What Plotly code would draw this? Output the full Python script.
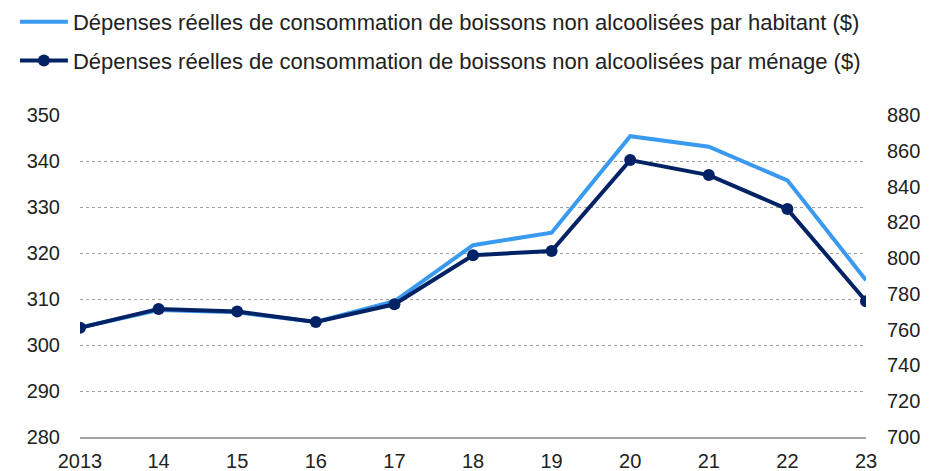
import plotly.graph_objects as go

years = [2013, 2014, 2015, 2016, 2017, 2018, 2019, 2020, 2021, 2022, 2023]
tick_labels = ["2013", "14", "15", "16", "17", "18", "19", "20", "21", "22", "23"]

per_capita = [303.8, 307.6, 307.1, 305.0, 309.5, 321.7, 324.4, 345.4, 343.1, 335.8, 314.1]
per_household = [761.1, 771.6, 770.1, 764.3, 774.2, 801.6, 804.0, 854.8, 846.4, 827.4, 775.9]

name_capita = "Dépenses réelles de consommation de boissons non alcoolisées par habitant ($)"
name_household = "Dépenses réelles de consommation de boissons non alcoolisées par ménage ($)"

LIGHT = "#3a9af0"
DARK = "#022266"
TEXT = "#222222"
FONT = "Liberation Sans, Arial, sans-serif"

fig = go.Figure()
fig.add_trace(go.Scatter(
    x=years, y=per_capita, name=name_capita, mode="lines",
    line=dict(color=LIGHT, width=4), legendgroup="a", yaxis="y",
))
fig.add_trace(go.Scatter(
    x=years, y=per_household, name=name_household, mode="lines+markers",
    line=dict(color=DARK, width=4), marker=dict(color=DARK, size=12),
    legendgroup="b", yaxis="y2",
))

# page body has an 8px default margin; size the figure so it fits the window
fig.update_layout(
    width=922, height=463,
    margin=dict(l=72, r=64, t=107, b=34, autoexpand=False),
    paper_bgcolor="white", plot_bgcolor="white",
    font=dict(family=FONT, color=TEXT, size=20),
    showlegend=True,
    legend=dict(
        xref="container", yref="paper", x=0.0075, y=1.354,
        xanchor="left", yanchor="top",
        font=dict(size=22, color=TEXT), tracegroupgap=7,
        itemwidth=48, bgcolor="rgba(0,0,0,0)",
    ),
    xaxis=dict(
        range=[2013, 2023], tickmode="array", tickvals=years, ticktext=tick_labels,
        showgrid=False, zeroline=False, showline=True, linecolor="#a6a6a6", linewidth=2,
        ticks="", ticklabelstandoff=5, tickfont=dict(size=20, color=TEXT),
    ),
    yaxis=dict(
        range=[280, 350], dtick=10, tick0=280, showgrid=True, gridcolor="#a0a0a0",
        griddash="dot", gridwidth=1, zeroline=False, showline=False, ticks="",
        ticklabelstandoff=19, tickfont=dict(size=20, color=TEXT),
    ),
    yaxis2=dict(
        range=[700, 880], dtick=20, tick0=700, overlaying="y", side="right",
        showgrid=False, zeroline=False, showline=False, ticks="",
        ticklabelstandoff=20, tickfont=dict(size=20, color=TEXT),
    ),
)

fig.write_html("out.html")
